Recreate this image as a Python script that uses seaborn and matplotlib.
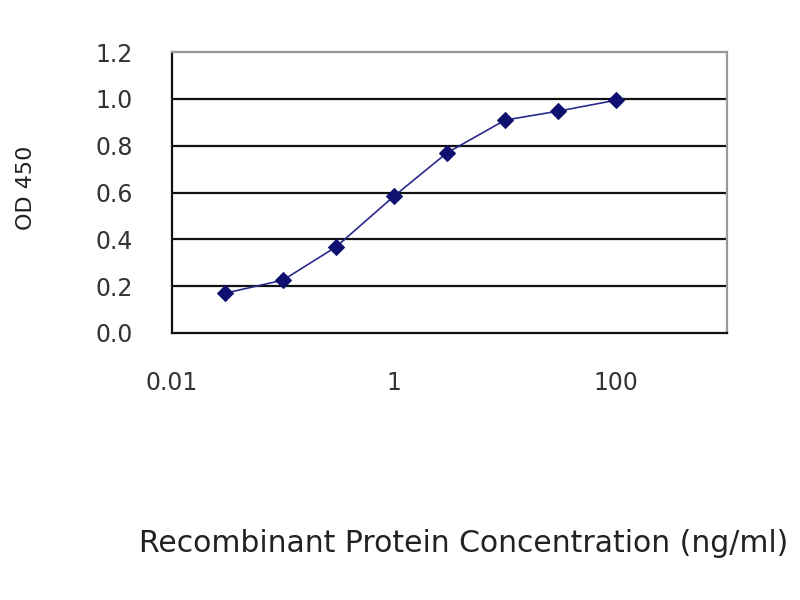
import matplotlib
matplotlib.use("Agg")
import matplotlib.pyplot as plt
import seaborn as sns
import pandas as pd
from matplotlib.ticker import FixedLocator, FixedFormatter, NullLocator

# data
concentration = [0.03, 0.1, 0.3, 1, 3, 10, 30, 100]
od450 = [0.17, 0.226, 0.368, 0.585, 0.77, 0.91, 0.948, 0.995]
x_ticks = [0.01, 1, 100]
x_tick_labels = ["0.01", "1", "100"]
y_ticks = [0.0, 0.2, 0.4, 0.6, 0.8, 1.0, 1.2]

df = pd.DataFrame({"conc": concentration, "od": od450})

sns.set_style("white")
plt.rcParams["font.family"] = ["DejaVu Sans"]

fig = plt.figure(figsize=(8, 6), dpi=100)
ax = fig.add_axes([0.215, 0.445, 0.694, 0.468])

sns.lineplot(data=df, x="conc", y="od", ax=ax, color="#2a2a8c", linewidth=1.2,
             marker="D", markersize=8, markerfacecolor="#101070",
             markeredgecolor="#101070")

ax.set_xscale("log")
ax.set_xlim(0.01, 1000)
ax.set_ylim(0, 1.2)

ax.xaxis.set_major_locator(FixedLocator(x_ticks))
ax.xaxis.set_major_formatter(FixedFormatter(x_tick_labels))
ax.xaxis.set_minor_locator(NullLocator())
ax.set_yticks(y_ticks)
ax.set_yticklabels([f"{v:.1f}" for v in y_ticks])

# horizontal black gridlines like the excel chart
for v in y_ticks[1:-1]:
    ax.axhline(v, color="#111111", linewidth=1.6, zorder=0)

for side in ["left", "bottom"]:
    ax.spines[side].set_color("#111111")
    ax.spines[side].set_linewidth(1.6)
for side in ["right", "top"]:
    ax.spines[side].set_visible(True)
    ax.spines[side].set_color("#999999")
    ax.spines[side].set_linewidth(1.6)

ax.tick_params(axis="x", direction="in", length=4, width=1.5, pad=27,
               labelsize=17, colors="#111111", labelcolor="#333333")
ax.tick_params(axis="y", length=0, pad=28, labelsize=17, labelcolor="#333333")

ax.set_xlabel("")
ax.set_ylabel("")
fig.text(0.033, 0.687, "OD 450", rotation=90, ha="center", va="center",
         fontsize=16, color="#222222")
fig.text(0.579, 0.095, "Recombinant Protein Concentration (ng/ml)",
         ha="center", va="center", fontsize=21.5, color="#222222")

fig.savefig("out.png", dpi=100, facecolor="white")
